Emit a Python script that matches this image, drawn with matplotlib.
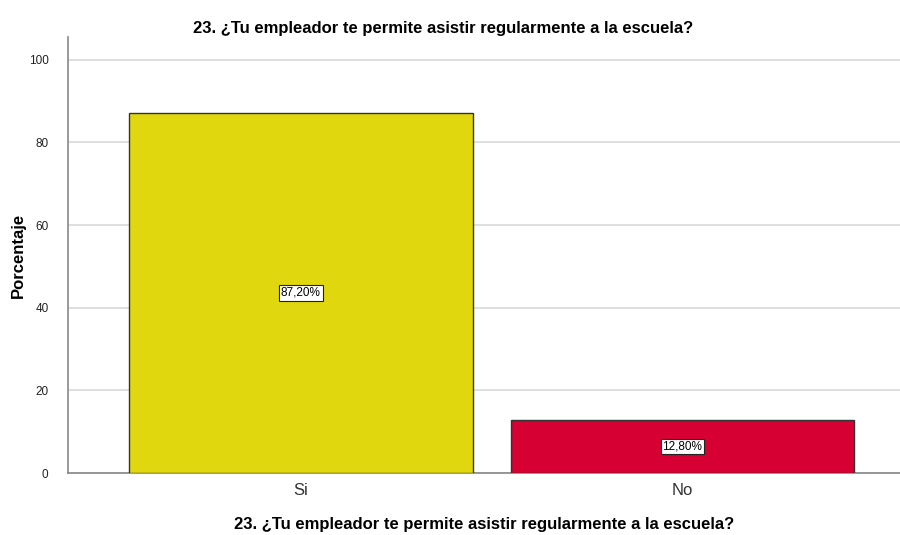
import matplotlib
matplotlib.use("Agg")
import matplotlib.pyplot as plt

categories = ["Si", "No"]
values = [87.2, 12.8]
labels = ["87,20%", "12,80%"]
colors = ["#E1D70E", "#D70032"]
title = "23. ¿Tu empleador te permite asistir regularmente a la escuela?"
yticks = [0, 20, 40, 60, 80, 100]

plt.rcParams['font.family'] = ['Liberation Sans', 'DejaVu Sans']

fig = plt.figure(figsize=(9, 5.35), dpi=100)
ax = fig.add_axes([68/900, 1-473/535, 1-68/900, (473-37)/535])

x = list(range(len(categories)))
ax.bar(x, values, width=0.9, color=colors, edgecolor="#333333", linewidth=1.0, zorder=3)
for xi, v, lab in zip(x, values, labels):
    ax.text(xi, v/2, lab, ha="center", va="center", fontsize=8.5, zorder=4,
            bbox=dict(boxstyle="square,pad=0.15", fc="white", ec="#222222", lw=0.8))

ax.set_xlim(-0.61, 1.57)
ax.set_ylim(0, 105.5)
ax.set_yticks(yticks)
ax.set_yticklabels([str(t) for t in yticks], fontsize=8.5, color="#222222")
ax.set_xticks(x)
ax.set_xticklabels(categories, fontsize=12, color="#333333")
ax.tick_params(axis="both", length=0)
ax.tick_params(axis="y", pad=14)
ax.tick_params(axis="x", pad=7)
ax.yaxis.grid(True, color="#d9d9d9", linewidth=1.2, zorder=0)
ax.set_axisbelow(True)
for s in ["top", "right"]:
    ax.spines[s].set_visible(False)
for s in ["left", "bottom"]:
    ax.spines[s].set_color("#888888")
    ax.spines[s].set_linewidth(1.2)

ax.set_ylabel("Porcentaje", fontsize=12, fontweight="bold")
ax.yaxis.set_label_coords((26 - 68) / 832, 0.5)
ax.set_xlabel(title, fontsize=12, fontweight="bold", labelpad=14)
fig.text(443/900, 1-28/535, title, ha="center", va="center", fontsize=12, fontweight="bold")

fig.savefig("out.png", dpi=100)
